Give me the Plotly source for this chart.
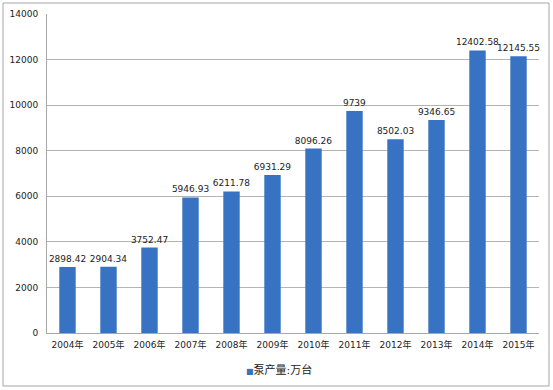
import plotly.graph_objects as go

years = ["2004年", "2005年", "2006年", "2007年", "2008年", "2009年",
         "2010年", "2011年", "2012年", "2013年", "2014年", "2015年"]
values = [2898.42, 2904.34, 3752.47, 5946.93, 6211.78, 6931.29,
          8096.26, 9739, 8502.03, 9346.65, 12402.58, 12145.55]
labels = ["2898.42", "2904.34", "3752.47", "5946.93", "6211.78", "6931.29",
          "8096.26", "9739", "8502.03", "9346.65", "12402.58", "12145.55"]
series_name = "泵产量:万台"
y_ticks = [0, 2000, 4000, 6000, 8000, 10000, 12000, 14000]
y_tick_text = ["0", "2000", "4000", "6000", "8000", "10000", "12000", "14000"]

FONT = "Verdana, DejaVu Sans, Noto Sans CJK SC"
BAR = "#3872C2"

fig = go.Figure(go.Bar(
    x=years, y=values, name=series_name,
    text=labels, textposition="outside", cliponaxis=False,
    constraintext="none",
    textfont=dict(size=9, color="#222222", family=FONT),
    marker=dict(color=BAR, line=dict(width=0)),
    width=0.4, showlegend=False,
))

W0, W1 = 47, 539
T0, B0 = 14, 333
pw, ph = W1 - W0, B0 - T0

def px_x(v):
    return (v - W0) / pw

def px_y(v):
    return (B0 - v) / ph

fig.add_shape(type="rect", xref="paper", yref="paper",
              x0=px_x(3), x1=px_x(549), y0=px_y(386), y1=px_y(3),
              line=dict(color="#A6A6A6", width=1), layer="below")

# legend (key square + label)
fig.add_annotation(xref="paper", yref="paper", x=px_x(244), y=px_y(370),
                   xanchor="left", yanchor="middle", showarrow=False,
                   text=f"<span style='color:{BAR};font-size:8px'>■</span>{series_name}",
                   font=dict(size=11, family=FONT, color="#222222"))

fig.update_layout(
    width=553, height=390,
    margin=dict(l=W0, r=553 - W1, t=T0, b=390 - B0, autoexpand=False),
    paper_bgcolor="white", plot_bgcolor="white",
    font=dict(family=FONT, size=9, color="#222222"),
    showlegend=False,
    xaxis=dict(showline=True, linecolor="#A8A8A8", linewidth=1,
               ticks="", automargin=False, ticklabelstandoff=3,
               tickfont=dict(size=9, family=FONT)),
    yaxis=dict(range=[0, 14000], tickvals=y_ticks, ticktext=y_tick_text,
               showgrid=True, gridcolor="#B4B4B4", gridwidth=1,
               showline=True, linecolor="#A8A8A8", linewidth=1,
               zeroline=False, ticks="", ticklabelstandoff=6,
               automargin=False,
               tickfont=dict(size=9, family=FONT)),
    bargap=0.6,
)

fig.write_html("out.html", config={"displayModeBar": False},
               post_script="document.body.style.margin='0';document.body.style.overflow='hidden';")
